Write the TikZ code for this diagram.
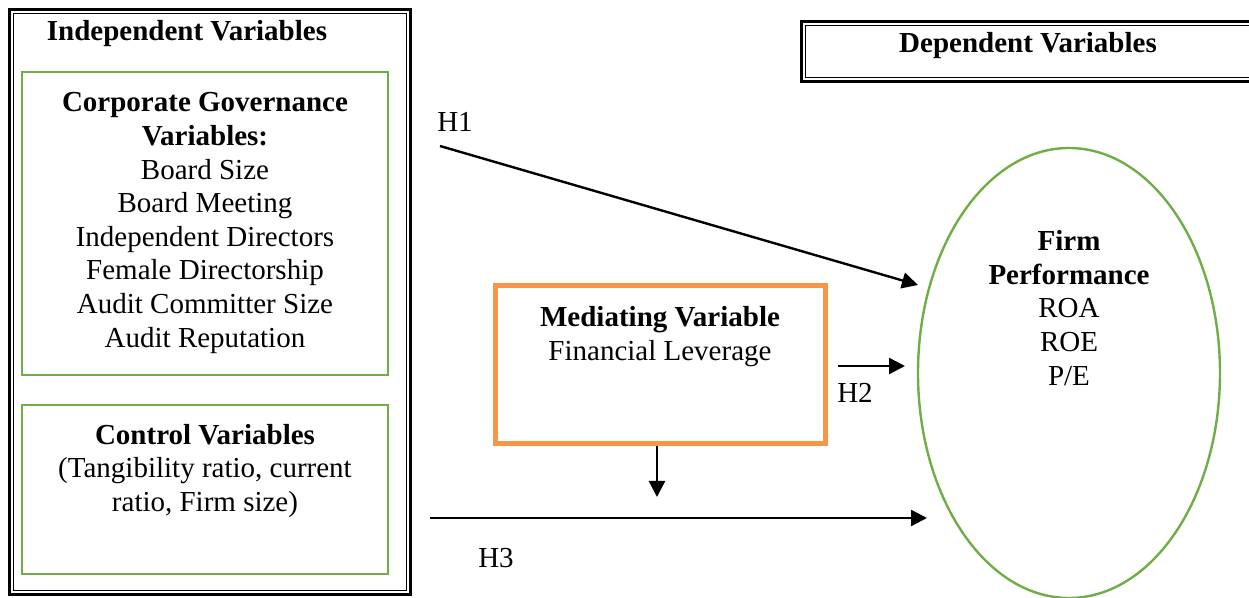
\documentclass[tikz,border=0pt]{standalone}
\usepackage{fontspec}
\setmainfont{Liberation Serif}
\usetikzlibrary{shapes}
\usetikzlibrary{positioning}
\usetikzlibrary{arrows.meta}
\definecolor{boxgreen}{HTML}{70AD47}
\definecolor{boxorange}{HTML}{F79646}
\tikzset{
    mybox/.style = {rectangle, line width=1pt, draw=boxgreen, minimum width=183pt, inner sep=0pt},
    myboxo/.style = {rectangle, line width=2.5pt, draw=boxorange, minimum width=165pt, minimum height=79pt, inner sep=0pt},
    myoval/.style = {ellipse, line width=1.2pt, draw=boxgreen, minimum width=151pt, minimum height=225pt, inner sep=0pt},
    mytext/.style = {align=center, inner sep=0pt, font=\fontsize{14.5}{16.8}\selectfont},
    mytextb/.style = {align=center, inner sep=0pt, font=\fontsize{14.5}{16.8}\selectfont\bfseries},
    edgea/.style = {-{Triangle[length=8pt,width=8pt]}, line width=1.2pt, black},
    framethick/.style = {line width=1.5pt, black},
    framethin/.style = {line width=0.5pt, black}
}

\begin{document}
\begin{tikzpicture}[x=0.5pt,y=-0.5pt]
\clip (0,0) rectangle (1249,598);
% double frames
\draw[framethick] (9.5,9.5) rectangle (410.5,594.5);
\draw[framethin] (13.5,13.5) rectangle (406.5,590.5);
\draw[framethick] (801.5,22) rectangle (1270,81.5);
\draw[framethin] (805.5,25.5) rectangle (1270,78);

\node[mytextb] (iv) at (187,34) {Independent Variables};
\node[mytextb] (dv) at (1028,46) {Dependent Variables};

\node[mybox, minimum height=151.5pt] (cg) at (205,223.5) {};
\node[mytext] (cgt) at (205,223) {\textbf{Corporate Governance}\\\textbf{Variables:}\\Board Size\\Board Meeting\\Independent Directors\\Female Directorship\\Audit Committer Size\\Audit Reputation};
\node[mybox, minimum height=84.5pt] (cv) at (205,489.5) {};
\node[mytext] (cvt) at (205,471) {\textbf{Control Variables}\\(Tangibility ratio, current\\ratio, Firm size)};

\node[myboxo] (mv) at (660.5,364.5) {};
\node[mytext] (mvt) at (660,336.5) {\textbf{Mediating Variable}\\Financial Leverage};

\node[myoval] (fp) at (1069,373) {};
\node[mytext] (fpt) at (1069,308) {\textbf{Firm}\\\textbf{Performance}\\ROA\\ROE\\P/E};

% hypotheses
\node[mytext] (h1) at (455,122) {H1};
\node[mytext] (h2) at (855,393) {H2};
\node[mytext] (h3) at (496,558) {H3};

\coordinate (h1s) at (440,146);
\coordinate (h1e) at (918,285);
\coordinate (h2s) at (838,366);
\coordinate (h2e) at (905,366);
\coordinate (mvd) at (657,497);
\coordinate (h3s) at (430,518);
\coordinate (h3e) at (927,518);

\draw[edgea] (h1s) -- (h1e);
\draw[edgea] (h2s) -- (h2e);
\draw[edgea] (mv.south -| mvd) -- (mvd);
\draw[edgea] (h3s) -- (h3e);

\end{tikzpicture}
\end{document}
